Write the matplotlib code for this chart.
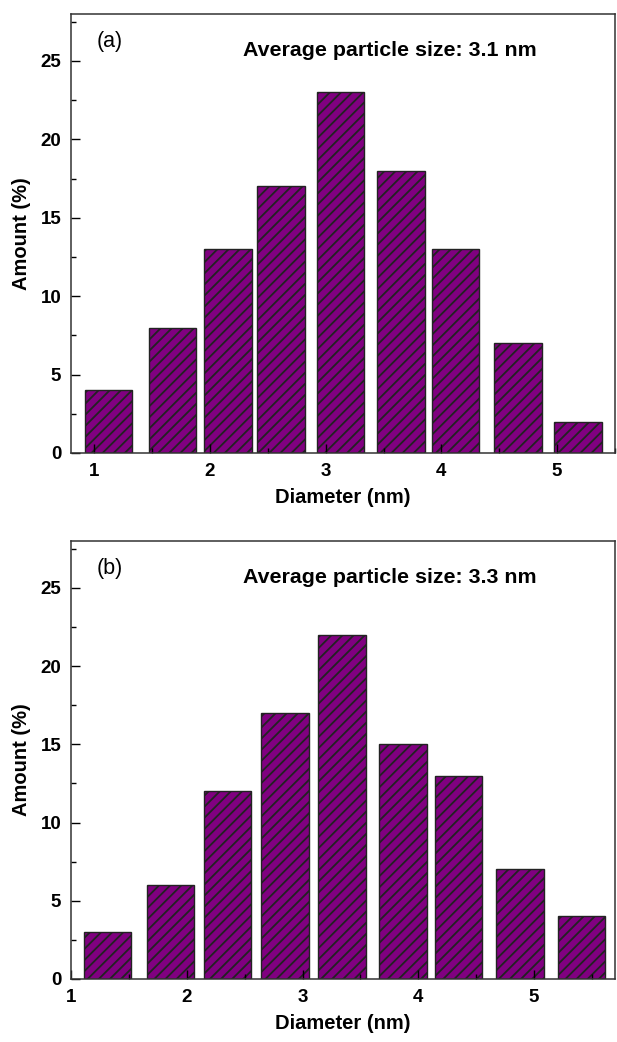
import matplotlib
matplotlib.use('Agg')
import matplotlib.pyplot as plt
from matplotlib.ticker import MultipleLocator

plt.rcParams['font.family'] = ['Liberation Sans', 'DejaVu Sans']
plt.rcParams['hatch.linewidth'] = 1.3
plt.rcParams['hatch.color'] = 'black'

# panel (a)
diam_a = [1.125, 1.675, 2.155, 2.615, 3.13, 3.65, 4.12, 4.66, 5.18]
amount_a = [4, 8, 13, 17, 23, 18, 13, 7, 2]
# panel (b)
diam_b = [1.315, 1.86, 2.35, 2.85, 3.34, 3.87, 4.35, 4.88, 5.41]
amount_b = [3, 6, 12, 17, 22, 15, 13, 7, 4]

panels = [
    ('(a)', 'Average particle size: 3.1 nm', diam_a, amount_a, (0.8, 5.5)),
    ('(b)', 'Average particle size: 3.3 nm', diam_b, amount_b, (1.0, 5.7)),
]
ax_pos = [[0.1151, 0.5653, 0.8817, 0.4213],
          [0.1151, 0.0605, 0.8817, 0.4203]]

fig = plt.figure(figsize=(6.17, 10.42), dpi=100)

for i, (tag, note, x, y, xl) in enumerate(panels):
    ax = fig.add_axes(ax_pos[i])
    ax.bar(x, y, width=0.41, color='#800080', edgecolor='#222222',
           linewidth=1.0, hatch='///')
    ax.set_xlim(xl)
    ax.set_ylim(0, 28)
    ax.xaxis.set_major_locator(MultipleLocator(1))
    ax.xaxis.set_minor_locator(MultipleLocator(0.5))
    ax.yaxis.set_major_locator(MultipleLocator(5))
    ax.yaxis.set_minor_locator(MultipleLocator(2.5))
    ax.tick_params(which='major', direction='in', length=6.5, width=1,
                   labelsize=13.5, pad=7)
    ax.tick_params(which='minor', direction='in', length=3.8, width=1)
    for lab in ax.get_xticklabels() + ax.get_yticklabels():
        lab.set_fontweight('bold')
    for s in ax.spines.values():
        s.set_color('#333333')
        s.set_linewidth(1.1)
    ax.set_xlabel('Diameter (nm)', fontsize=14.5, fontweight='bold', labelpad=6)
    ax.set_ylabel('Amount (%)', fontsize=14.5, fontweight='bold', labelpad=7)
    ax.text(0.072, 0.938, tag, transform=ax.transAxes, fontsize=15.5,
            ha='center', va='center')
    ax.text(0.316, 0.916, note, transform=ax.transAxes, fontsize=15.4,
            fontweight='bold', ha='left', va='center')

fig.savefig('out.png', dpi=100)
